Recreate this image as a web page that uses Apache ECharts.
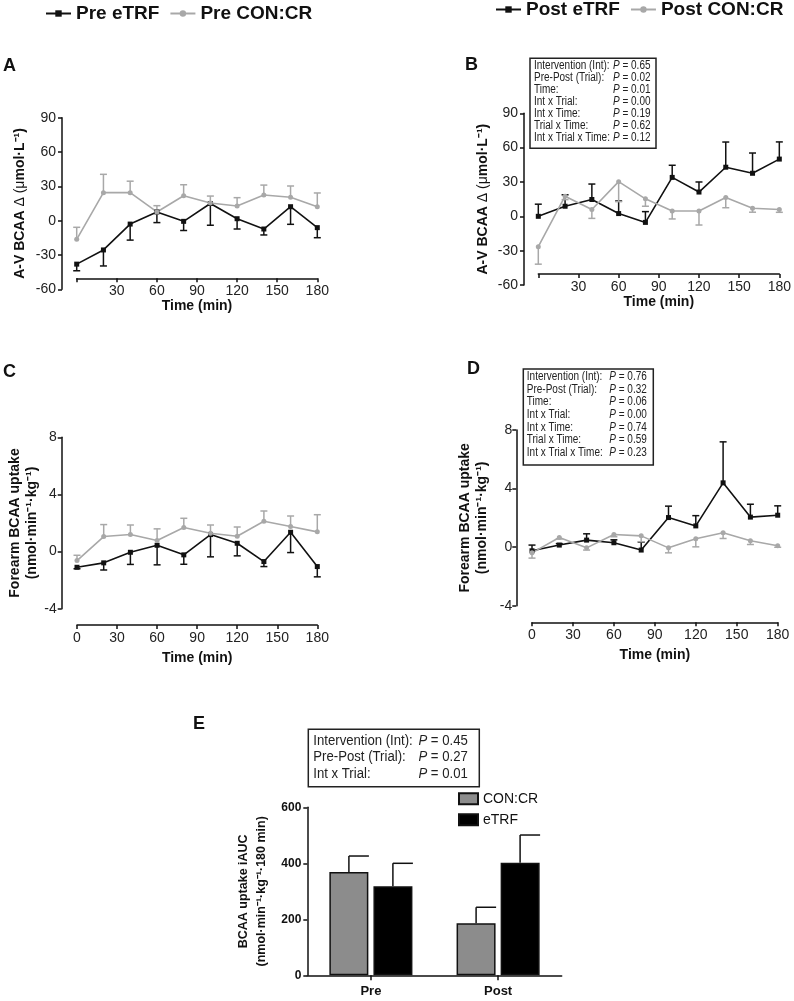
<!DOCTYPE html>
<html><head><meta charset="utf-8">
<script src="https://cdn.jsdelivr.net/npm/echarts@6/dist/echarts.min.js"></script>
<style>html,body{margin:0;padding:0;background:#fff}#c{width:794px;height:1001px}</style>
</head><body><div id="c"></div>
<script>
// ---------- DATA ----------
const times = [0,20,40,60,80,100,120,140,160,180];
// Panel A: A-V BCAA delta, Pre
const preETRF_AV      = [-38,-25.6,-3,7.6,-0.6,15,1.7,-7.3,12.2,-6.1];
const preETRF_AV_sem  = [5.8,14,14,9.3,8,19,9,5.2,15.4,8.8];
const preCON_AV       = [-16.3,24.5,24.5,7.6,21.8,15.4,12.8,22.4,20.4,12.2];
const preCON_AV_sem   = [10.5,16,10,5.5,9.6,6.1,7.3,8.7,9.9,12];
// Panel B: A-V BCAA delta, Post
const postETRF_AV     = [0,8.8,14.7,2.4,-5.3,34,21.2,42.9,37.6,50];
const postETRF_AV_sem = [10.6,10,13.5,11,9.4,10.6,8.8,22,17.7,15];
const postCON_AV      = [-26.5,17.6,5.9,30.3,15.3,4.7,4.7,16.5,7.1,5.9];
const postCON_AV_sem  = [15.3,3,7.7,17.5,6.5,7,12.3,9,3.5,2.4];
// Panel C: forearm BCAA uptake, Pre
const preETRF_FU      = [-1.1,-0.79,-0.05,0.44,-0.23,1.19,0.58,-0.7,1.35,-1.05];
const preETRF_FU_sem  = [0.1,0.5,0.85,1.37,0.66,1.56,0.88,0.35,1.42,0.72];
const preCON_FU       = [-0.63,1.05,1.19,0.77,1.68,1.28,1.07,2.12,1.75,1.38];
const preCON_FU_sem   = [0.37,0.84,0.67,0.82,0.65,0.58,0.65,0.72,0.74,1.2];
// Panel D: forearm BCAA uptake, Post
const postETRF_FU     = [-0.25,0.14,0.48,0.3,-0.2,2.02,1.45,4.39,2.05,2.18];
const postETRF_FU_sem = [0.39,0.1,0.43,0.2,0.54,0.78,0.7,2.8,0.88,0.64];
const postCON_FU      = [-0.39,0.66,-0.05,0.86,0.77,-0.05,0.57,0.98,0.43,0.09];
const postCON_FU_sem  = [0.36,0.1,0.15,0.15,0.4,0.34,0.55,0.39,0.25,0.1];
// Panel E: iAUC
const aucCategories = ['Pre','Post'];
const aucCON        = [369,186];
const aucCON_sem    = [57,57];
const aucETRF       = [318,402];
const aucETRF_sem   = [82,99];
// Stats text
const statLabels  = ['Intervention (Int):','Pre-Post (Trial):','Time:','Int x Trial:','Int x Time:','Trial x Time:','Int x Trial x Time:'];
const statsB      = ['0.65','0.02','0.01','0.00','0.19','0.62','0.12'];
const statsD      = ['0.76','0.32','0.06','0.00','0.74','0.59','0.23'];
const statLabelsE = ['Intervention (Int):','Pre-Post (Trial):','Int x Trial:'];
const statsE      = ['0.45','0.27','0.01'];

// ---------- STYLE ----------
const FONT = 'Liberation Sans, Arial, Helvetica, sans-serif';
const BLACK = '#111', GRAY = '#a8a8a8', BARGRAY = '#8c8c8c';

function errLineRender(capW){
  return function(params, api){
    const x = api.value(0), y = api.value(1), e = api.value(2);
    const p0 = api.coord([x,y]), p1 = api.coord([x,e]);
    const st = {stroke: api.visual('color'), lineWidth: 1.5};
    return {type:'group', children:[
      {type:'line', shape:{x1:p0[0],y1:p0[1],x2:p1[0],y2:p1[1]}, style:st},
      {type:'line', shape:{x1:p1[0]-capW/2,y1:p1[1],x2:p1[0]+capW/2,y2:p1[1]}, style:st}
    ]};
  };
}

const avName = '{b|A-V BCAA }{n|Δ (μ}{b|mol·L⁻¹)}';
const avRich = {b:{fontWeight:'bold',fontSize:14,fontFamily:FONT,color:BLACK},
                n:{fontSize:14,fontFamily:FONT,color:BLACK}};
const fuName = 'Forearm BCAA uptake\n(nmol·min⁻¹·kg⁻¹)';

const panels = [
  {grid:{left:76.7,right:476.7,top:117.7,bottom:711.7}, ymin:-60,ymax:90,yint:30, yOff:14.7, xOff:-11, hideZero:true,
   yName:avName, rich:avRich, yNameGap:35, xNameGap:21, yMargin:6,
   s:[{name:'Pre eTRF',v:preETRF_AV,e:preETRF_AV_sem,dir:-1,color:BLACK,sym:'rect'},
      {name:'Pre CON:CR',v:preCON_AV,e:preCON_AV_sem,dir:1,color:GRAY,sym:'circle'}]},
  {grid:{left:538.3,right:14,top:113.3,bottom:716}, ymin:-60,ymax:90,yint:30, yOff:14.3, xOff:-11, hideZero:true,
   yName:avName, rich:avRich, yNameGap:34, xNameGap:21, yMargin:6,
   s:[{name:'Post eTRF',v:postETRF_AV,e:postETRF_AV_sem,dir:1,color:BLACK,sym:'rect'},
      {name:'Post CON:CR',v:postCON_AV,e:postCON_AV_sem,dir:-1,color:GRAY,sym:'circle'}]},
  {grid:{left:77,right:476.7,top:437.3,bottom:392.3}, ymin:-4,ymax:8,yint:4, yOff:15.3, xOff:16.3, hideZero:false,
   yName:fuName, rich:null, yNameGap:20, xNameGap:26, yMargin:5,
   s:[{name:'Pre eTRF',v:preETRF_FU,e:preETRF_FU_sem,dir:-1,color:BLACK,sym:'rect'},
      {name:'Pre CON:CR',v:preCON_FU,e:preCON_FU_sem,dir:1,color:GRAY,sym:'circle'}]},
  {grid:{left:532,right:16.3,top:430,bottom:395.3}, ymin:-4,ymax:8,yint:4, yOff:15.7, xOff:16.6, hideZero:false,
   yName:fuName, rich:null, yNameGap:26, xNameGap:26, yMargin:4,
   s:[{name:'Post eTRF',v:postETRF_FU,e:postETRF_FU_sem,dir:1,color:BLACK,sym:'rect'},
      {name:'Post CON:CR',v:postCON_FU,e:postCON_FU_sem,dir:-1,color:GRAY,sym:'circle'}]}
];

const grids = [], xAxes = [], yAxes = [], series = [];
panels.forEach((p, i) => {
  grids.push(Object.assign({containLabel:false}, p.grid));
  xAxes.push({type:'value', gridIndex:i, min:0, max:180, interval:30, position:'bottom', offset:p.xOff,
    name:'Time (min)', nameLocation:'middle', nameGap:p.xNameGap,
    nameTextStyle:{fontWeight:'bold',fontSize:14,fontFamily:FONT,color:BLACK},
    axisLine:{show:true,onZero:false,lineStyle:{color:BLACK,width:1.5}},
    axisTick:{show:true,length:4,lineStyle:{color:BLACK,width:1.5}},
    axisLabel:{fontSize:14,fontFamily:FONT,color:'#222',margin:6,
      formatter: v => (p.hideZero && v === 0) ? '' : String(v)},
    splitLine:{show:false}});
  const yn = {type:'value', gridIndex:i, min:p.ymin, max:p.ymax, interval:p.yint, position:'left', offset:p.yOff,
    name:p.yName, nameLocation:'middle', nameGap:p.yNameGap, nameRotate:90,
    axisLine:{show:true,onZero:false,lineStyle:{color:BLACK,width:1.5}},
    axisTick:{show:true,length:4,lineStyle:{color:BLACK,width:1.5}},
    axisLabel:{fontSize:14,fontFamily:FONT,color:'#222',margin:p.yMargin},
    splitLine:{show:false}};
  yn.nameTextStyle = p.rich ? {rich:p.rich} :
    {fontWeight:'bold',fontSize:14,fontFamily:FONT,color:BLACK,lineHeight:17};
  yAxes.push(yn);
  p.s.forEach((s, k) => {
    const line = {type:'line', name:s.name, xAxisIndex:i, yAxisIndex:i, z:3,
      data: times.map((t, j) => [t, s.v[j]]),
      symbol:s.sym, symbolSize:5, showSymbol:true,
      lineStyle:{color:s.color,width:1.6}, itemStyle:{color:s.color}};
    if (k === 0) {
      line.markLine = {silent:true, symbol:'none', animation:false,
        lineStyle:{type:'dotted',color:BLACK,width:1.3},
        label:{show:false},
        data:[[{coord:[-11,0]},{coord:[181.5,0]}]]};
    }
    series.push(line);
    series.push({type:'custom', name:s.name+' err', xAxisIndex:i, yAxisIndex:i, z:2,
      renderItem: errLineRender(7), itemStyle:{color:s.color},
      data: times.map((t, j) => [t, s.v[j], s.v[j] + s.dir * s.e[j]])});
  });
});

// Panel E
const gi = 4;
grids.push({left:307.3, right:232.3, top:807.3, bottom:25.7});
xAxes.push({type:'category', gridIndex:gi, data:aucCategories,
  axisLine:{show:true,lineStyle:{color:BLACK,width:1.5}},
  axisTick:{show:true,alignWithLabel:true,length:5,lineStyle:{color:BLACK,width:1.5}},
  axisLabel:{fontWeight:'bold',fontSize:13,fontFamily:FONT,color:BLACK,margin:10},
  splitLine:{show:false}});
yAxes.push({type:'value', gridIndex:gi, min:0, max:600, interval:200,
  name:'BCAA uptake iAUC\n(nmol·min⁻¹·kg⁻¹·180 min)', nameLocation:'middle', nameGap:37, nameRotate:90,
  nameTextStyle:{fontWeight:'bold',fontSize:12.5,fontFamily:FONT,color:BLACK,lineHeight:18},
  axisLine:{show:true,lineStyle:{color:BLACK,width:1.5}},
  axisTick:{show:true,length:4,lineStyle:{color:BLACK,width:1.5}},
  axisLabel:{fontWeight:'bold',fontSize:12,fontFamily:FONT,color:BLACK,margin:6},
  splitLine:{show:false}});

function barErrRender(offset, capW){
  return function(params, api){
    const c = api.value(0), y = api.value(1), e = api.value(2);
    const p0 = api.coord([c,y]), p1 = api.coord([c,e]);
    const x = p0[0] + offset;
    const st = {stroke:BLACK, lineWidth:1.5};
    return {type:'group', children:[
      {type:'line', shape:{x1:x,y1:p0[1],x2:x,y2:p1[1]}, style:st},
      {type:'line', shape:{x1:x,y1:p1[1],x2:x+capW,y2:p1[1]}, style:st}
    ]};
  };
}
series.push({type:'bar', name:'CON:CR', xAxisIndex:gi, yAxisIndex:gi, data:aucCON, barWidth:39, barGap:'13%',
  itemStyle:{color:BARGRAY,borderColor:BLACK,borderWidth:1.5}, z:3});
series.push({type:'bar', name:'eTRF', xAxisIndex:gi, yAxisIndex:gi, data:aucETRF, barWidth:39, barGap:'13%',
  itemStyle:{color:'#000',borderColor:BLACK,borderWidth:1.5}, z:3});
series.push({type:'custom', name:'CON:CR err', xAxisIndex:gi, yAxisIndex:gi, z:2,
  renderItem: barErrRender(-22, 20),
  data: aucCategories.map((c, j) => [j, aucCON[j], aucCON[j] + aucCON_sem[j]])});
series.push({type:'custom', name:'eTRF err', xAxisIndex:gi, yAxisIndex:gi, z:2,
  renderItem: barErrRender(22, 20),
  data: aucCategories.map((c, j) => [j, aucETRF[j], aucETRF[j] + aucETRF_sem[j]])});

// ---------- GRAPHICS (letters + stats boxes) ----------
function letter(txt, x, y){
  return {type:'text', x:x, y:y, silent:true,
    style:{text:txt, fontSize:18, fontWeight:'bold', fontFamily:FONT, fill:BLACK, verticalAlign:'middle'}};
}
function statBox(x, y, w, h, labels, vals, fs, lh, sc, padL, valRight, textTop){
  return {type:'group', x:x, y:y, silent:true, children:[
    {type:'rect', shape:{x:0,y:0,width:w,height:h}, style:{fill:'#fff',stroke:'#222',lineWidth:1.5}},
    {type:'text', x:padL, y:textTop, scaleX:sc,
      style:{text:labels.join('\n'), fontSize:fs, lineHeight:lh, fontFamily:FONT, fill:'#222', verticalAlign:'top'}},
    {type:'text', x:valRight, y:textTop, scaleX:sc,
      style:{text:vals.map(v => '{i|P}{t| = ' + v + '}').join('\n'), align:'right', verticalAlign:'top',
        fontSize:fs, lineHeight:lh, fontFamily:FONT, fill:'#222',
        rich:{i:{fontStyle:'italic',fontSize:fs,lineHeight:lh,fontFamily:FONT,fill:'#222'},
              t:{fontSize:fs,lineHeight:lh,fontFamily:FONT,fill:'#222'}}}}
  ]};
}

const option = {
  animation:false,
  backgroundColor:'#fff',
  textStyle:{fontFamily:FONT},
  grid:grids, xAxis:xAxes, yAxis:yAxes, series:series,
  legend:[
    {data:['Pre eTRF','Pre CON:CR'], left:45, top:4, padding:0, itemWidth:25, itemHeight:8, itemGap:10,
     selectedMode:false, textStyle:{fontSize:19,fontWeight:'bold',color:BLACK,fontFamily:FONT}},
    {data:['Post eTRF','Post CON:CR'], left:495, top:0, padding:0, itemWidth:25, itemHeight:8, itemGap:10,
     selectedMode:false, textStyle:{fontSize:19,fontWeight:'bold',color:BLACK,fontFamily:FONT}},
    {data:['CON:CR','eTRF'], left:458, top:791.7, padding:0, orient:'vertical', itemWidth:19, itemHeight:11, itemGap:7,
     icon:'rect', selectedMode:false, textStyle:{fontSize:14,color:BLACK,fontFamily:FONT,lineHeight:14}}
  ],
  graphic:[
    letter('A', 3, 66), letter('B', 465, 65), letter('C', 3, 372), letter('D', 467, 369), letter('E', 193, 724),
    statBox(530, 58.3, 126, 90, statLabels, statsB, 12.5, 11.93, 0.8, 4, 120.5, 1.6),
    statBox(523.3, 369, 130, 96, statLabels, statsD, 12.5, 12.67, 0.8, 3.5, 123.5, 1.3),
    statBox(308.3, 729.3, 171, 57.4, statLabelsE, statsE, 14, 16.7, 0.94, 5, 159.5, 3)
  ]
};
const chart = echarts.init(document.getElementById('c'));
chart.setOption(option);
</script>
</body></html>
